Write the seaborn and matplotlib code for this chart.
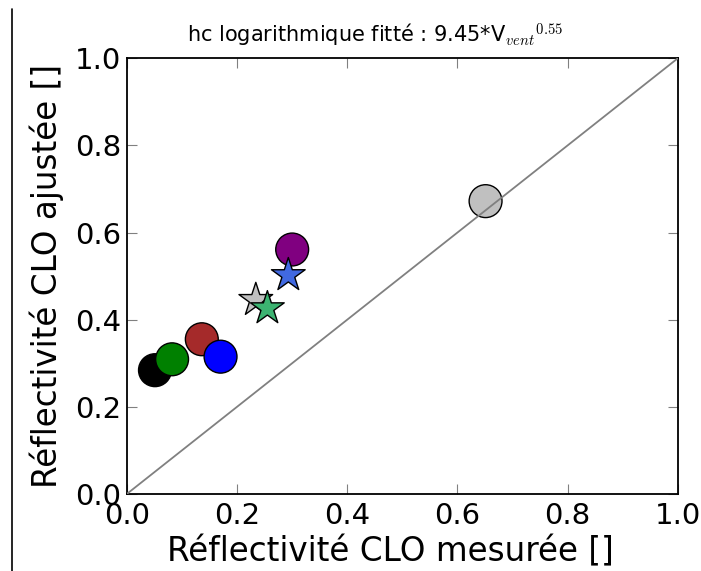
import numpy as np
import pandas as pd
import matplotlib
matplotlib.use("Agg")
import matplotlib.pyplot as plt
from matplotlib.lines import Line2D
import seaborn as sns

# points mesures / ajustes
mesure_ronds = [0.051, 0.082, 0.136, 0.170, 0.300, 0.651]
ajuste_ronds = [0.284, 0.309, 0.355, 0.315, 0.561, 0.672]
couleurs_ronds = ["black", "green", "brown", "blue", "purple", "silver"]

mesure_etoiles = [0.293, 0.234, 0.255]
ajuste_etoiles = [0.502, 0.445, 0.426]
couleurs_etoiles = ["royalblue", "silver", "mediumseagreen"]

ticks = [0.0, 0.2, 0.4, 0.6, 0.8, 1.0]

sns.set_style("ticks", {"xtick.direction": "in", "ytick.direction": "in",
                        "axes.edgecolor": "black", "text.color": "black",
                        "axes.labelcolor": "black"})
plt.rcParams["font.family"] = ["DejaVu Sans"]
plt.rcParams["mathtext.fontset"] = "cm"

df_r = pd.DataFrame({"x": mesure_ronds, "y": ajuste_ronds, "c": couleurs_ronds})
df_e = pd.DataFrame({"x": mesure_etoiles, "y": ajuste_etoiles, "c": couleurs_etoiles})

fig = plt.figure(figsize=(7.01, 5.71), dpi=100)
ax = fig.add_axes([0.181, 0.135, 0.786, 0.763])

sns.scatterplot(data=df_r, x="x", y="y", hue="c", palette=dict(zip(couleurs_ronds, couleurs_ronds)),
                s=560, marker="o", edgecolor="black", linewidth=1, legend=False, ax=ax, zorder=2)
sns.scatterplot(data=df_e, x="x", y="y", hue="c", palette=dict(zip(couleurs_etoiles, couleurs_etoiles)),
                s=650, marker="*", edgecolor="black", linewidth=1, legend=False, ax=ax, zorder=2)

# droite 1:1
ax.plot([0, 1], [0, 1], color="gray", linewidth=1.3, zorder=3)

ax.set_xlim(0, 1)
ax.set_ylim(0, 1)
ax.set_xticks(ticks)
ax.set_yticks(ticks)
ax.set_xticklabels([f"{t:.1f}" for t in ticks])
ax.set_yticklabels([f"{t:.1f}" for t in ticks])
ax.tick_params(labelsize=21, length=7, color="gray", labelcolor="black",
               top=True, right=True)
ax.tick_params(axis="x", pad=6)
ax.tick_params(axis="y", pad=4)
for s in ax.spines.values():
    s.set_linewidth(1.3)
    s.set_color("black")

ax.set_xlabel("Réflectivité CLO mesurée []", fontsize=23.5, labelpad=5)
ax.xaxis.set_label_coords(0.478, -0.095)
ax.set_ylabel("Réflectivité CLO ajustée []", fontsize=23.5, labelpad=8)
ax.set_title(r"hc logarithmique fitté : 9.45*V$_{vent}$$^{0.55}$", fontsize=15, pad=12, x=0.45)

# trait vertical a gauche (bord de capture)
fig.add_artist(Line2D([12 / 701, 12 / 701], [0, 1 - 9 / 571], color="black", linewidth=1.2))

plt.savefig("out.png", dpi=100)
